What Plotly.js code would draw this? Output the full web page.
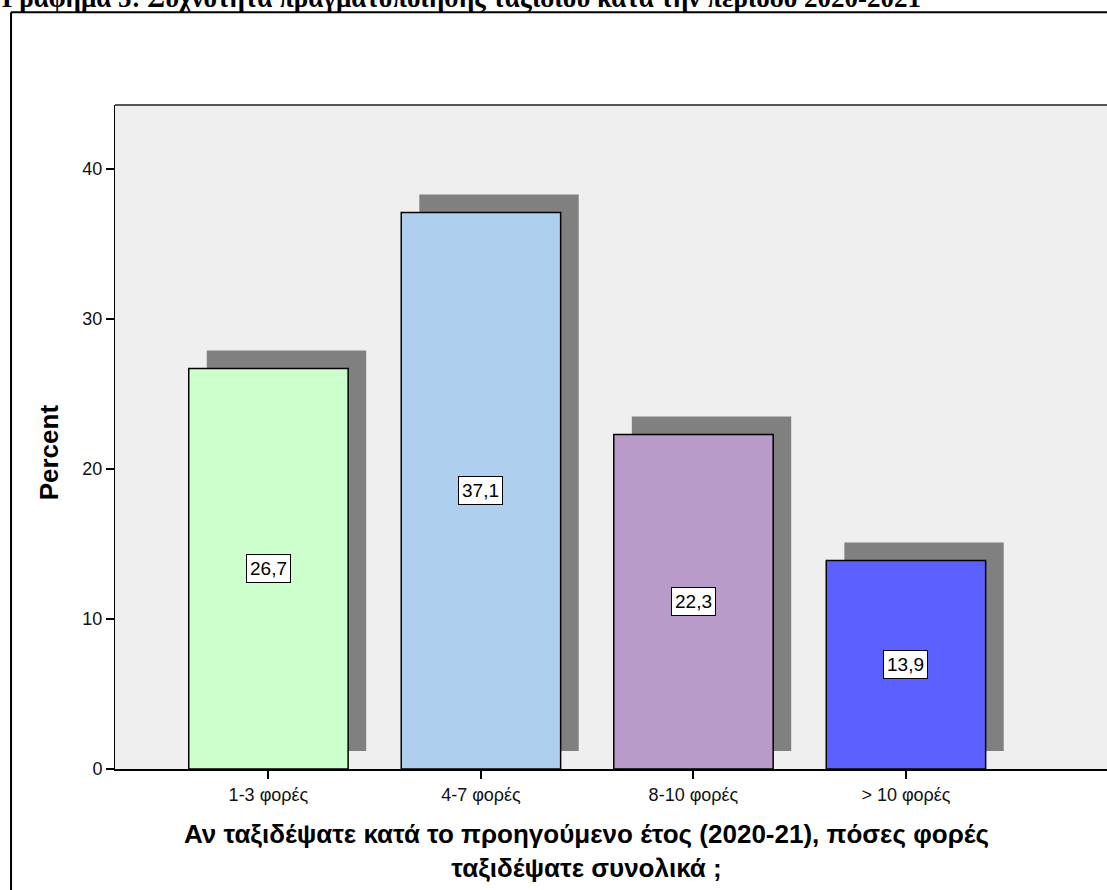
<!DOCTYPE html>
<html>
<head>
<meta charset="utf-8">
<script src="https://cdn.plot.ly/plotly-3.0.1.min.js"></script>
<style>
  html, body { margin: 0; padding: 0; background: #fff; overflow: hidden; }
  #chart { width: 1107px; height: 890px; }
</style>
</head>
<body>
<div id="chart"></div>
<script>
var categories = ['1-3 φορές', '4-7 φορές', '8-10 φορές', '> 10 φορές'];
var percents = [26.7, 37.1, 22.3, 13.9];
var labels = ['26,7', '37,1', '22,3', '13,9'];
var barColors = ['#ccffcc', '#aecfee', '#b89bc8', '#5b60ff'];
var yTicks = [0, 10, 20, 30, 40];

var shadowLift = 1.2;   // shadow is shifted up by this many percent
var shadowShift = 0.085; // and right by this fraction of a category

var shadow = {
  x: categories,
  y: percents,
  base: shadowLift,
  type: 'bar',
  width: 0.75,
  offset: -0.375 + shadowShift,
  marker: {color: '#808080', line: {width: 0}},
  hoverinfo: 'skip'
};
var bars = {
  x: categories,
  y: percents,
  type: 'bar',
  width: 0.75,
  marker: {color: barColors, line: {color: '#000', width: 1.5}},
  hoverinfo: 'skip'
};

var font = 'Liberation Sans, Arial, sans-serif';
var annotations = percents.map(function (v, i) {
  return {
    x: categories[i], y: v / 2, xref: 'x', yref: 'y',
    text: labels[i], showarrow: false,
    font: {family: font, size: 19, color: '#000'},
    bgcolor: '#fff', bordercolor: '#000', borderwidth: 1, borderpad: 3
  };
});
// x axis title (two lines)
annotations.push({
  x: 0.4753, y: -0.1235, xref: 'paper', yref: 'paper',
  xanchor: 'center', yanchor: 'middle', showarrow: false,
  text: '<b>Αν ταξιδέψατε κατά το προηγούμενο έτος (2020-21), πόσες φορές<br>ταξιδέψατε συνολικά ;</b>',
  font: {family: font, size: 26, color: '#000'}
});
// y axis title
annotations.push({
  x: -0.0665, y: 0.477, xref: 'paper', yref: 'paper',
  xanchor: 'center', yanchor: 'middle', showarrow: false, textangle: -90,
  text: '<b>Percent</b>',
  font: {family: font, size: 26, color: '#000'}
});
// page caption, cut by the top edge
annotations.push({
  x: -0.1159, y: 1.161, xref: 'paper', yref: 'paper',
  xanchor: 'left', yanchor: 'middle', showarrow: false,
  text: '<b>Γράφημα 5: Συχνότητα πραγματοποίησης ταξιδιού κατά την περίοδο 2020-2021</b>',
  font: {family: 'Liberation Serif, Times New Roman, serif', size: 27, color: '#000'}
});

var layout = {
  width: 1107, height: 890,
  margin: {l: 115, r: 0, t: 105, b: 121},
  paper_bgcolor: '#fff', plot_bgcolor: '#efefef',
  barmode: 'overlay',
  showlegend: false,
  xaxis: {
    type: 'category', range: [-0.722, 3.946], fixedrange: true,
    showgrid: false, zeroline: false,
    showline: true, linecolor: '#000', linewidth: 2,
    ticks: 'outside', ticklen: 8, tickwidth: 2, tickcolor: '#000',
    tickfont: {family: font, size: 18, color: '#111'}
  },
  yaxis: {
    range: [0, 44.27], fixedrange: true,
    tickvals: yTicks, showgrid: false, zeroline: false,
    showline: true, linecolor: '#000', linewidth: 1,
    ticks: 'outside', ticklen: 8, tickwidth: 2, tickcolor: '#000',
    tickfont: {family: font, size: 18, color: '#111'}
  },
  shapes: [
    // plot area top edge
    {type: 'line', xref: 'paper', yref: 'paper', x0: 0, x1: 1.01, y0: 1, y1: 1,
     line: {color: '#222', width: 1.5}},
    // outer frame
    {type: 'line', xref: 'paper', yref: 'paper', x0: -0.1048, x1: 1.01, y0: 1.1395, y1: 1.1395,
     line: {color: '#000', width: 2}},
    {type: 'line', xref: 'paper', yref: 'paper', x0: -0.1048, x1: -0.1048, y0: 1.1395, y1: -0.2,
     line: {color: '#000', width: 2}}
  ],
  annotations: annotations
};

Plotly.newPlot('chart', [shadow, bars], layout, {displayModeBar: false, staticPlot: true});
</script>
</body>
</html>
